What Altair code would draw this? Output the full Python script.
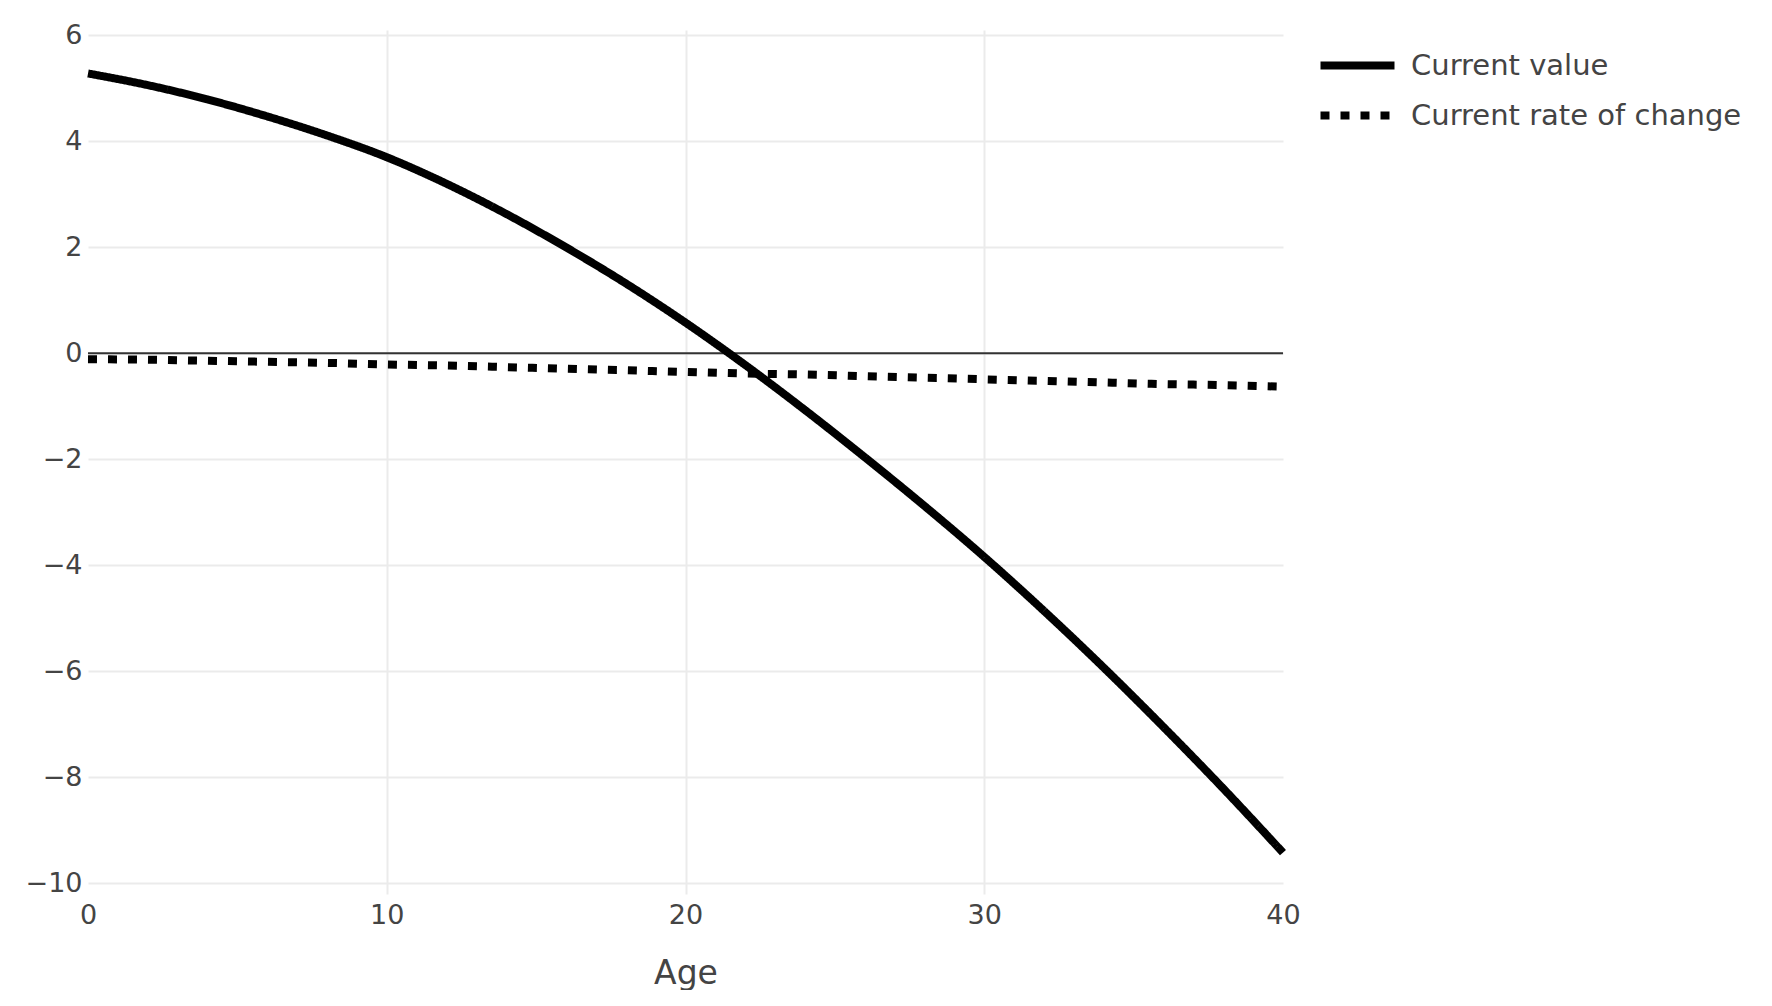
import altair as alt
import pandas as pd

# Ages (x) and the two series
ages = [0, 2, 4, 6, 8, 10, 12, 14, 16, 18, 20, 22, 24, 26, 28, 30, 32, 34, 36, 38, 40]
current_value = [5.28, 5.06, 4.79, 4.47, 4.11, 3.70, 3.20, 2.63, 2.00, 1.32, 0.58, -0.22,
                 -1.07, -1.96, -2.88, -3.84, -4.86, -5.93, -7.05, -8.21, -9.42]
rate_of_change = [-0.11, -0.12, -0.14, -0.16, -0.18, -0.21, -0.23, -0.26, -0.29, -0.32, -0.35,
                  -0.38, -0.40, -0.43, -0.46, -0.49, -0.52, -0.55, -0.58, -0.60, -0.63]
series_names = ["Current value", "Current rate of change"]
x_ticks = [0, 10, 20, 30, 40]
y_ticks = [-10, -8, -6, -4, -2, 0, 2, 4, 6]

rows = []
for a, v in zip(ages, current_value):
    rows.append({"Age": a, "value": v, "series": series_names[0]})
for a, v in zip(ages, rate_of_change):
    rows.append({"Age": a, "value": v, "series": series_names[1]})
df = pd.DataFrame(rows)
zero_df = pd.DataFrame({"y": [0]})

FONT = "DejaVu Sans"
TXT = "#444444"

x_enc = alt.X(
    "Age:Q",
    scale=alt.Scale(domain=[0, 40], nice=False, zero=False),
    axis=alt.Axis(
        values=x_ticks, title="Age", grid=True,
        gridColor={"condition": {"test": "datum.value == 0 || datum.value == 40", "value": "transparent"}, "value": "#ebebeb"},
        gridWidth=2, domain=False, ticks=False, labelFlush=False,
        labelFontSize=27, labelFont=FONT, labelColor=TXT, labelPadding=8,
        titleFontSize=33, titleFont=FONT, titleColor=TXT, titleFontWeight="normal", titlePadding=29,
    ),
)
y_enc = alt.Y(
    "value:Q",
    scale=alt.Scale(domain=[-10.2, 6.1], nice=False, zero=False),
    axis=alt.Axis(
        values=y_ticks, title=None, grid=True, gridColor="#ebebeb", gridWidth=2,
        domain=False, ticks=False, labelFlush=False,
        labelFontSize=27, labelFont=FONT, labelColor=TXT, labelPadding=6,
    ),
)

zero_line = alt.Chart(zero_df).mark_rule(color="#333333", strokeWidth=2).encode(y="y:Q")

lines = alt.Chart(df).mark_line(color="black", strokeWidth=8, interpolate="monotone").encode(
    x=x_enc,
    y=y_enc,
    strokeDash=alt.StrokeDash(
        "series:N",
        scale=alt.Scale(domain=series_names, range=[[1, 0], [9, 11]]),
        legend=alt.Legend(
            title=None, orient="none", legendX=1247, legendY=13,
            symbolType="M-2,0H2", symbolSize=1369, symbolStrokeWidth=8,
            symbolStrokeColor="black", labelFontSize=29, labelFont=FONT,
            labelColor=TXT, labelOffset=31, rowPadding=11, labelLimit=600,
        ),
    ),
)

chart = alt.layer(zero_line, lines).properties(
    width=1195, height=864,
    background="white",
    autosize=alt.AutoSizeParams(type="none"),
    padding={"left": 80, "top": 22, "right": 470, "bottom": 96},
).configure_view(stroke="transparent", strokeWidth=0)

chart.save("out.html", embed_options={"renderer": "svg", "actions": False})
